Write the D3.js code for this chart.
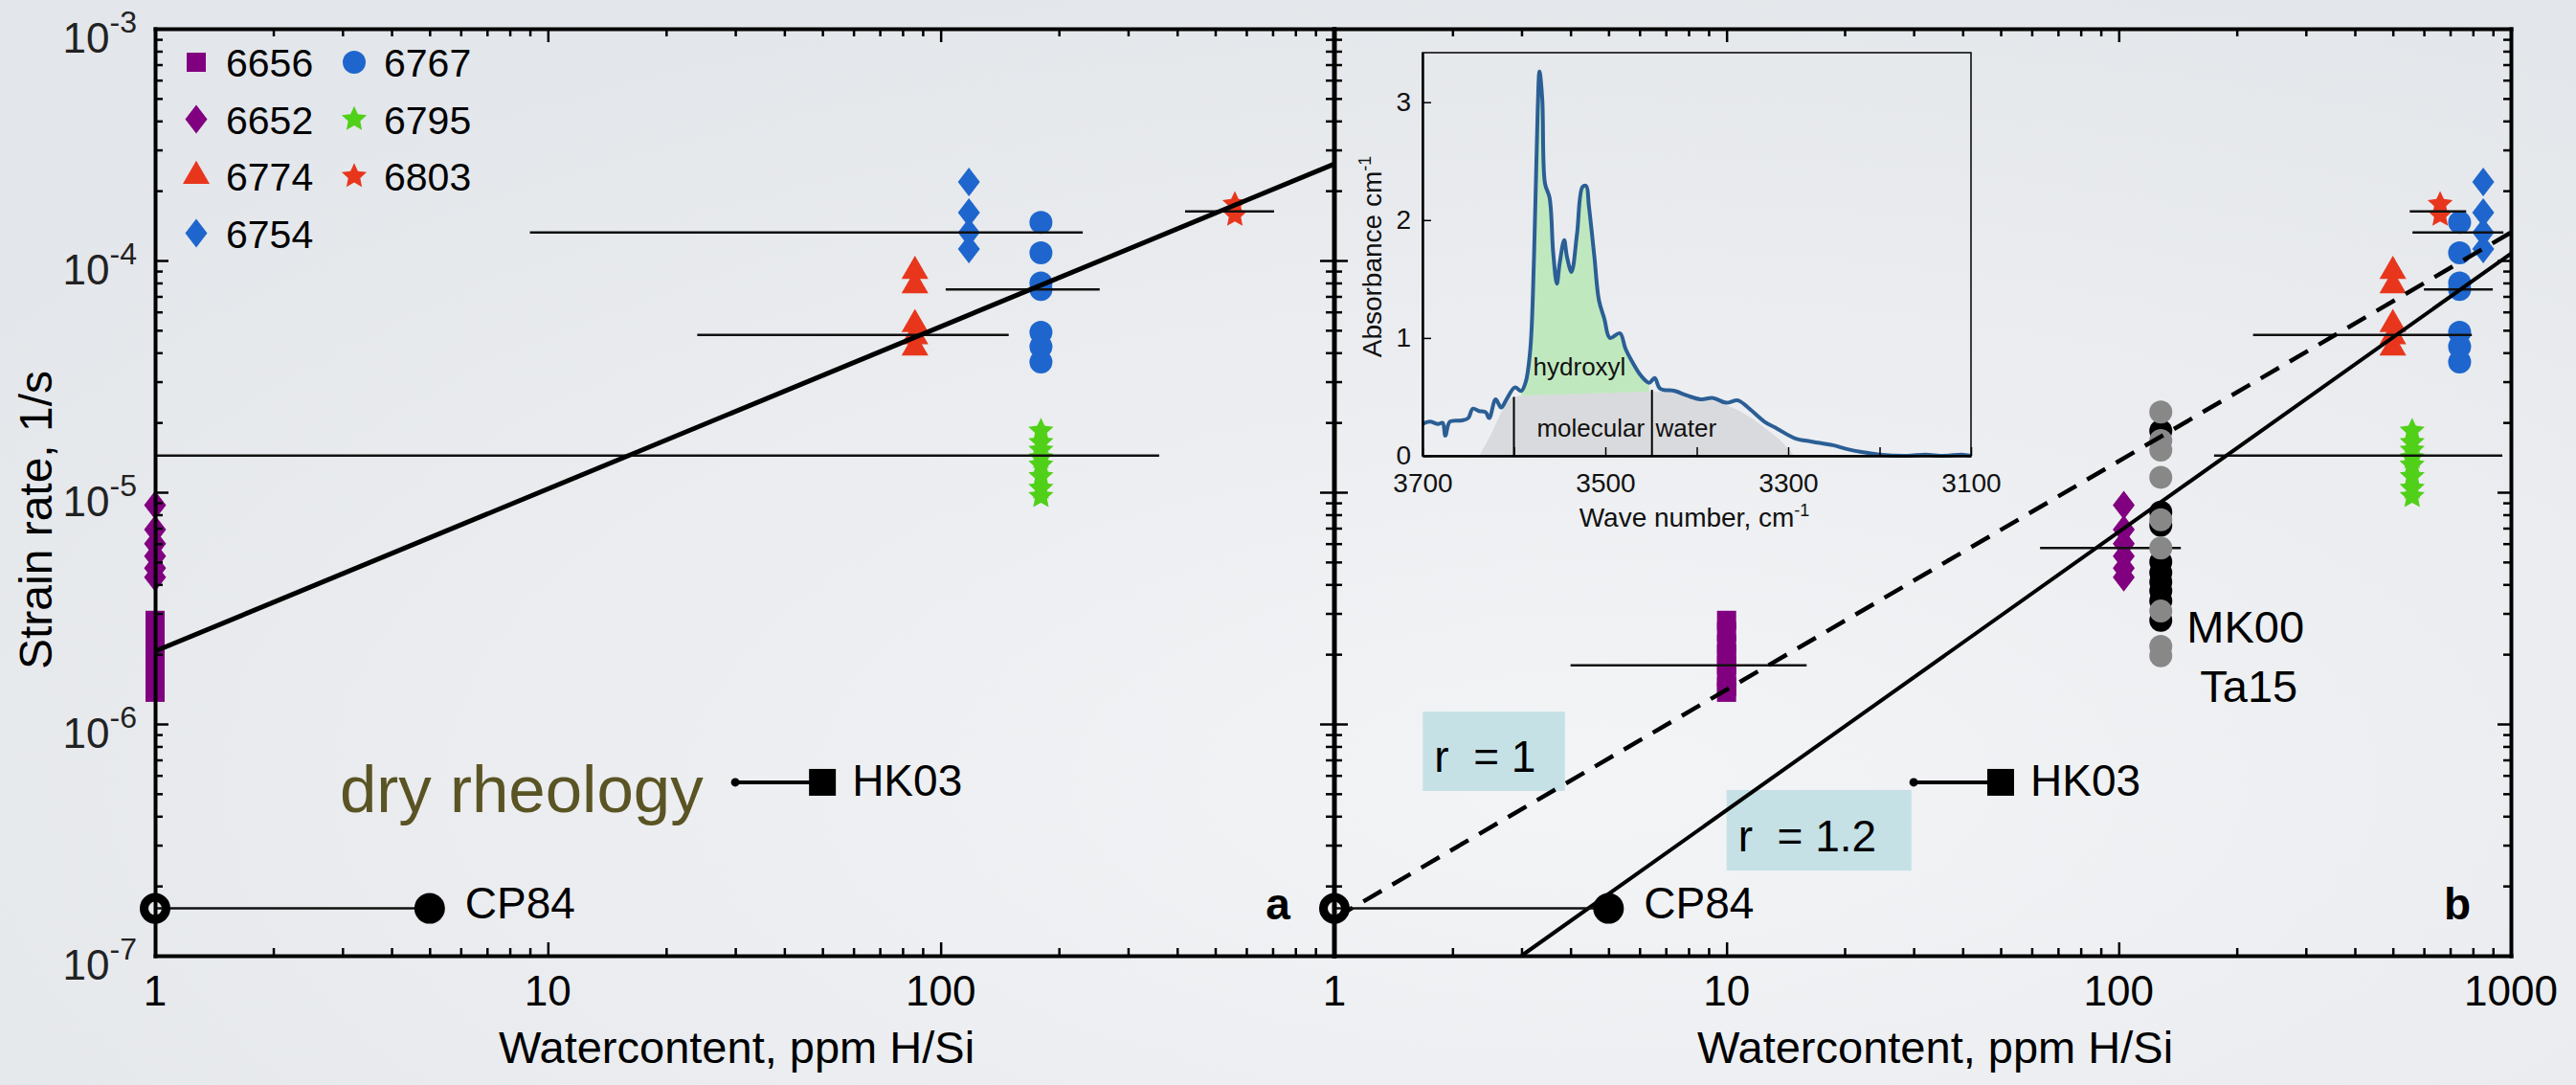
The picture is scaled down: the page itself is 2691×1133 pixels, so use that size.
<!DOCTYPE html>
<html>
<head>
<meta charset="utf-8">
<script src="https://cdn.jsdelivr.net/npm/d3@7"></script>
<style>
  body { margin: 0; }
  text { font-family: "Liberation Sans", Arial, Helvetica, sans-serif; }
</style>
</head>
<body>
<svg id="chart" width="2691" height="1133"></svg>
<script>
// Samples, in legend order
const samples = ["6656", "6652", "6774", "6754", "6767", "6795", "6803"];
const sampleColors = ["#800080", "#800080", "#e8361d", "#1e66cd", "#1e66cd", "#50d018", "#e8361d"];
const sampleShapes = ["square", "diamond", "triangle", "diamond", "circle", "star", "star"];

// Strain rates, 1/s
const rate6656 = [2.8e-6, 2.5e-6, 2.2e-6, 2.0e-6, 1.8e-6, 1.6e-6, 1.45e-6, 1.37e-6];
const rate6652 = [8.8e-6, 6.9e-6, 6.0e-6, 5.3e-6, 4.7e-6, 4.3e-6];
const rate6774 = [9.0e-5, 7.8e-5, 5.3e-5, 4.7e-5, 4.2e-5];
const rate6754 = [2.18e-4, 1.61e-4, 1.32e-4, 1.12e-4];
const rate6767 = [1.46e-4, 1.08e-4, 8.0e-5, 7.5e-5, 4.9e-5, 4.25e-5, 3.65e-5];
const rate6795 = [1.84e-5, 1.64e-5, 1.52e-5, 1.41e-5, 1.31e-5, 1.17e-5, 1.04e-5, 9.6e-6];
const rate6803 = [1.75e-4, 1.57e-4];
const rates = [rate6656, rate6652, rate6774, rate6754, rate6767, rate6795, rate6803];

// Water content, ppm H/Si (panel a, panel b)
const waterA = [1, 1, 86, 118, 180, 180, 561];
const waterB = [10, 103, 500, 850, 740, 560, 660];

// Horizontal bars: water content range at one strain rate per sample
const barRate = [1.79e-6, 5.75e-6, 4.77e-5, 1.32e-4, 7.5e-5, 1.44e-5, 1.63e-4];
const barLowA = [null, null, 24, 9, 103, 1, 419];
const barHighA = [null, null, 149, 230, 254, 360, 706];
const barLowB = [4, 63, 220, 561, 600, 175, 552];
const barHighB = [16, 144, 795, 957, 899, 951, 769];

// Literature data
const cp84Water = [1, 5];
const cp84Rate = 1.6e-7;
const hk03Water = [30, 50];
const hk03Rate = 5.6e-7;
const mk00Water = 128;
const mk00Rate = [2.22e-5, 1.67e-5, 1.52e-5, 1.16e-5, 7.6e-6, 5.75e-6, 3.07e-6, 2.16e-6, 1.97e-6];
const ta15Rate = [1.84e-5, 8.2e-6, 7.2e-6, 5.0e-6, 4.5e-6, 4.1e-6, 3.75e-6, 3.4e-6, 2.8e-6];

// Fitted lines
const fitWaterA = [1, 1000];
const fitRateA = [2.06e-6, 2.6e-4];
const r1Water = [1, 1000];
const r1Rate = [1.45e-7, 1.32e-4];
const r12Water = [3, 1000];
const r12Rate = [1e-7, 1.07e-4];

// Inset: FTIR spectrum
const waveNumber = [3700, 3692, 3683, 3678, 3675, 3670, 3657, 3650, 3645, 3638, 3631, 3627, 3620, 3614, 3608,
  3599, 3592, 3587, 3582, 3578, 3574, 3572, 3569, 3566, 3561, 3557, 3553, 3550, 3545, 3542, 3537, 3531, 3525,
  3521, 3518, 3512, 3507, 3501, 3495, 3484, 3478, 3470, 3461, 3452, 3446, 3440, 3424, 3410, 3396, 3382, 3368,
  3355, 3344, 3326, 3312, 3293, 3274, 3251, 3237, 3218, 3200, 3170, 3150, 3130, 3110, 3100];
const absorbance = [0.27, 0.29, 0.27, 0.28, 0.17, 0.29, 0.30, 0.32, 0.40, 0.38, 0.37, 0.32, 0.48, 0.41, 0.48,
  0.58, 0.55, 0.63, 0.91, 1.69, 2.93, 3.26, 3.03, 2.31, 2.19, 1.72, 1.46, 1.63, 1.83, 1.69, 1.56, 1.88, 2.28,
  2.29, 2.12, 1.69, 1.32, 1.16, 1.00, 1.04, 0.91, 0.79, 0.68, 0.62, 0.66, 0.57, 0.55, 0.51, 0.48, 0.49, 0.45,
  0.47, 0.41, 0.29, 0.23, 0.15, 0.12, 0.09, 0.06, 0.03, 0.01, 0.0, 0.01, 0.0, 0.01, 0.0];
const hydroxylWn = [3592, 3449];
const hydroxylBase = [0.51, 0.545];
const waterWn = [3638, 3624, 3613, 3603, 3592, 3520, 3449, 3424, 3396, 3368, 3344, 3326, 3307, 3293];
const waterAbs = [0, 0.2, 0.38, 0.49, 0.51, 0.53, 0.545, 0.54, 0.49, 0.43, 0.34, 0.24, 0.12, 0];
const cutWn = [3600, 3449];
const cutTop = [0.5, 0.56];

// Tick labels
const yExponents = [-3, -4, -5, -6, -7];
const xLabelsA = [1, 10, 100];
const xLabelsB = [1, 10, 100, 1000];

const svg = d3.select("#chart");

// background
let grad = svg.append("defs").append("radialGradient")
    .attr("id", "bg").attr("cx", "62%").attr("cy", "72%").attr("r", "80%");
grad.append("stop").attr("offset", "0%").attr("stop-color", "#f3f4f6");
grad.append("stop").attr("offset", "100%").attr("stop-color", "#e3e6ea");
svg.append("rect").attr("width", 2691).attr("height", 1133).attr("fill", "url(#bg)");

// Scales
let y = d3.scaleLog().domain([1e-7, 1e-3]).range([998, 30]);
let xA = d3.scaleLog().domain([1, 1000]).range([162, 1393]);
let xB = d3.scaleLog().domain([1, 1000]).range([1394, 2623]);

function isMajor(v) {
    let l = Math.log10(v);
    return Math.abs(l - Math.round(l)) < 1e-6;
}

// marker shapes
let diamond = {
    draw(ctx) {
        ctx.moveTo(0, -15);
        ctx.lineTo(11.5, 0);
        ctx.lineTo(0, 15);
        ctx.lineTo(-11.5, 0);
        ctx.closePath();
    },
};
let fatStar = {
    draw(ctx, size) {
        let R = Math.sqrt(size);
        for (let k = 0; k < 10; k++) {
            let a = -Math.PI / 2 + (k * Math.PI) / 5;
            let rad = k % 2 === 0 ? R : R * 0.48;
            if (k === 0) ctx.moveTo(rad * Math.cos(a), rad * Math.sin(a));
            else ctx.lineTo(rad * Math.cos(a), rad * Math.sin(a));
        }
        ctx.closePath();
    },
};
let symbolTypes = {
    square: [d3.symbolSquare, 400],
    diamond: [diamond, 0],
    triangle: [d3.symbolTriangle, 340],
    circle: [d3.symbolCircle, 452],
    star: [fatStar, 190],
};
function symbolPath(shape) {
    return d3.symbol(symbolTypes[shape][0], symbolTypes[shape][1])();
}

// Box with log ticks on all four sides
function drawFrame(x) {
    let [x0, x1] = x.range();
    let [y0, y1] = y.range();
    let style = (sel, attr, sign) => {
        sel.select(".domain").attr("stroke-width", 4).attr("stroke-linecap", "square");
        sel.selectAll("text").remove();
        sel.selectAll(".tick line")
            .attr("stroke-width", 2.5)
            .attr(attr, (d) => sign * (isMajor(d) ? 14 : 8));
    };
    svg.append("g").attr("transform", `translate(0,${y0})`)
        .call(d3.axisTop(x).tickValues(x.ticks()).tickSizeOuter(0))
        .call((s) => style(s, "y2", -1));
    svg.append("g").attr("transform", `translate(0,${y1})`)
        .call(d3.axisBottom(x).tickValues(x.ticks()).tickSizeOuter(0))
        .call((s) => style(s, "y2", 1));
    svg.append("g").attr("transform", `translate(${x0},0)`)
        .call(d3.axisRight(y).tickValues(y.ticks()).tickSizeOuter(0))
        .call((s) => style(s, "x2", 1));
    svg.append("g").attr("transform", `translate(${x1},0)`)
        .call(d3.axisLeft(y).tickValues(y.ticks()).tickSizeOuter(0))
        .call((s) => style(s, "x2", -1));
}

function drawSamples(x, water, barLow, barHigh) {
    samples.forEach((s, i) => {
        svg.append("g").selectAll("path")
            .data(rates[i])
            .join("path")
            .attr("d", symbolPath(sampleShapes[i]))
            .attr("transform", (d) => `translate(${x(water[i])},${y(d)})`)
            .attr("fill", sampleColors[i]);
    });
    samples.forEach((s, i) => {
        if (barLow[i] == null) return;
        svg.append("line")
            .attr("x1", x(barLow[i])).attr("x2", x(barHigh[i]))
            .attr("y1", y(barRate[i])).attr("y2", y(barRate[i]))
            .attr("stroke", "#111").attr("stroke-width", 2.5);
    });
}

let logLine = (x) => d3.line().x((d) => x(d[0])).y((d) => y(d[1]));

function drawLiterature(x) {
    // CP84
    svg.append("line")
        .attr("x1", x(cp84Water[0])).attr("x2", x(cp84Water[1]))
        .attr("y1", y(cp84Rate)).attr("y2", y(cp84Rate))
        .attr("stroke", "#111").attr("stroke-width", 2.5);
    svg.append("circle")
        .attr("cx", x(cp84Water[0])).attr("cy", y(cp84Rate)).attr("r", 11.5)
        .attr("fill", "none").attr("stroke", "#000").attr("stroke-width", 9);
    svg.append("circle")
        .attr("cx", x(cp84Water[1])).attr("cy", y(cp84Rate)).attr("r", 16)
        .attr("fill", "#000");
    svg.append("text")
        .attr("x", x(cp84Water[1]) + 37).attr("y", y(cp84Rate) + 10)
        .attr("font-size", 46).text("CP84");

    // HK03
    svg.append("line")
        .attr("x1", x(hk03Water[0])).attr("x2", x(hk03Water[1]))
        .attr("y1", y(hk03Rate)).attr("y2", y(hk03Rate))
        .attr("stroke", "#000").attr("stroke-width", 4);
    svg.append("circle")
        .attr("cx", x(hk03Water[0])).attr("cy", y(hk03Rate)).attr("r", 4.5)
        .attr("fill", "#000");
    svg.append("path")
        .attr("d", d3.symbol(d3.symbolSquare, 784)())
        .attr("transform", `translate(${x(hk03Water[1])},${y(hk03Rate)})`)
        .attr("fill", "#000");
    svg.append("text")
        .attr("x", x(hk03Water[1]) + 31).attr("y", y(hk03Rate) + 14)
        .attr("font-size", 46).text("HK03");
}

// Panel a
drawSamples(xA, waterA, barLowA, barHighA);
svg.append("path")
    .datum(d3.zip(fitWaterA, fitRateA))
    .attr("d", logLine(xA))
    .attr("fill", "none").attr("stroke", "#000").attr("stroke-width", 5);
drawLiterature(xA);
drawFrame(xA);

// Panel b
let rBoxes = [
    { water: [1.68, 3.87], rate: [1.13e-6, 5.14e-7], label: "r  = 1" },
    { water: [10.0, 29.6], rate: [5.19e-7, 2.33e-7], label: "r  = 1.2" },
];
rBoxes.forEach((b) => {
    svg.append("rect")
        .attr("x", xB(b.water[0])).attr("y", y(b.rate[0]))
        .attr("width", xB(b.water[1]) - xB(b.water[0]))
        .attr("height", y(b.rate[1]) - y(b.rate[0]))
        .attr("fill", "#c5e1e6");
    svg.append("text")
        .attr("x", xB(b.water[0]) + 12).attr("y", y(b.rate[1]) - 20)
        .attr("font-size", 46).style("white-space", "pre")
        .text(b.label);
});

drawSamples(xB, waterB, barLowB, barHighB);
svg.append("g").selectAll("circle")
    .data(ta15Rate).join("circle")
    .attr("cx", xB(mk00Water)).attr("cy", (d) => y(d)).attr("r", 12)
    .attr("fill", "#000");
svg.append("g").selectAll("circle")
    .data(mk00Rate).join("circle")
    .attr("cx", xB(mk00Water)).attr("cy", (d) => y(d)).attr("r", 12)
    .attr("fill", "#888888");

svg.append("path")
    .datum(d3.zip(r1Water, r1Rate))
    .attr("d", logLine(xB))
    .attr("fill", "none").attr("stroke", "#000").attr("stroke-width", 4.5)
    .attr("stroke-dasharray", "22,13");
svg.append("path")
    .datum(d3.zip(r12Water, r12Rate))
    .attr("d", logLine(xB))
    .attr("fill", "none").attr("stroke", "#000").attr("stroke-width", 4);
drawLiterature(xB);
drawFrame(xB);

svg.append("text").attr("x", xB(mk00Water) + 27).attr("y", 671)
    .attr("font-size", 47).text("MK00");
svg.append("text").attr("x", xB(mk00Water) + 41).attr("y", 733)
    .attr("font-size", 47).text("Ta15");

// Legend
samples.forEach((s, i) => {
    let col = i < 4 ? 0 : 1;
    let row = i < 4 ? i : i - 4;
    let mx = [205, 370][col];
    let my = 65 + row * 59.5;
    svg.append("path")
        .attr("d", symbolPath(sampleShapes[i]))
        .attr("transform", `translate(${mx},${my})`)
        .attr("fill", sampleColors[i]);
    svg.append("text")
        .attr("x", mx + 31).attr("y", my + 15)
        .attr("font-size", 41).text(s);
});

// Tick labels
yExponents.forEach((e) => {
    let t = svg.append("text")
        .attr("x", 143).attr("y", y(Math.pow(10, e)) + 25)
        .attr("text-anchor", "end").attr("font-size", 44).attr("fill", "#222");
    t.append("tspan").text("10");
    t.append("tspan").attr("dy", -21).attr("font-size", 32).text(e);
});
[[xA, xLabelsA, -8], [xB, xLabelsB, 13]].forEach(([x, labels, shift]) => {
    labels.forEach((v) => {
        svg.append("text")
            .attr("x", x(v)).attr("y", 1050)
            .attr("text-anchor", "middle").attr("font-size", 44).text(v);
    });
    let [a, b] = x.range();
    svg.append("text")
        .attr("x", (a + b) / 2 + shift).attr("y", 1110)
        .attr("text-anchor", "middle").attr("font-size", 47)
        .text("Watercontent, ppm H/Si");
});
svg.append("text")
    .attr("transform", "translate(54,543) rotate(-90)")
    .attr("text-anchor", "middle").attr("font-size", 48)
    .text("Strain rate, 1/s");

svg.append("text").attr("x", 355).attr("y", 848)
    .attr("font-size", 69).attr("fill", "#5a5424").text("dry rheology");
svg.append("text").attr("x", 1335).attr("y", 960)
    .attr("text-anchor", "middle").attr("font-size", 46).attr("font-weight", "bold").text("a");
svg.append("text").attr("x", 2567).attr("y", 960)
    .attr("text-anchor", "middle").attr("font-size", 46).attr("font-weight", "bold").text("b");

// Inset spectrum
let sx = d3.scaleLinear().domain([3700, 3100]).range([1486, 2059]);
let sy = d3.scaleLinear().domain([0, 3.42]).range([476, 55]);
let spectrum = d3.zip(waveNumber, absorbance);
let inset = svg.append("g");

inset.append("path")
    .datum(d3.zip(waterWn, waterAbs))
    .attr("d", d3.area().x((d) => sx(d[0])).y0(sy(0)).y1((d) => sy(d[1])).curve(d3.curveMonotoneX))
    .attr("fill", "#d9dadd");

let base = d3.scaleLinear().domain(hydroxylWn).range(hydroxylBase);
inset.append("path")
    .datum(spectrum.filter((d) => d[0] <= hydroxylWn[0] && d[0] >= hydroxylWn[1]))
    .attr("d", d3.area().x((d) => sx(d[0])).y0((d) => sy(base(d[0]))).y1((d) => sy(d[1])).curve(d3.curveCatmullRom))
    .attr("fill", "#c0e8bf");

cutWn.forEach((w, i) => {
    inset.append("line")
        .attr("x1", sx(w)).attr("x2", sx(w))
        .attr("y1", sy(0)).attr("y2", sy(cutTop[i]))
        .attr("stroke", "#000").attr("stroke-width", 2);
});

inset.append("path")
    .datum(spectrum)
    .attr("d", d3.line().x((d) => sx(d[0])).y((d) => sy(d[1])).curve(d3.curveCatmullRom))
    .attr("fill", "none").attr("stroke", "#2b5e95").attr("stroke-width", 4);

inset.append("rect")
    .attr("x", sx(3700)).attr("y", sy(3.42))
    .attr("width", sx(3100) - sx(3700)).attr("height", sy(0) - sy(3.42))
    .attr("fill", "none").attr("stroke", "#000").attr("stroke-width", 1.5);

let insetAxis = (sel) => {
    sel.attr("font-size", 28).attr("font-family", null);
    sel.select(".domain").attr("stroke-width", 2.5);
    sel.selectAll(".tick line").attr("stroke-width", 1.5);
    sel.selectAll("text").attr("fill", "#111");
};
inset.append("g").attr("transform", `translate(${sx(3700)},0)`)
    .call(d3.axisLeft(sy).tickValues([0, 1, 2, 3]).tickFormat(d3.format("d"))
        .tickSizeInner(-9).tickSizeOuter(0).tickPadding(12))
    .call(insetAxis);
inset.append("g").attr("transform", `translate(0,${sy(0)})`)
    .call(d3.axisBottom(sx).tickValues(d3.range(3700, 3099, -100)).tickSizeInner(-9).tickSizeOuter(0)
        .tickPadding(18).tickFormat((d) => (d % 200 === 100 ? d : "")))
    .call(insetAxis);

let yTitle = inset.append("text")
    .attr("transform", "translate(1443,268) rotate(-90)")
    .attr("text-anchor", "middle").attr("font-size", 28).attr("fill", "#111");
yTitle.append("tspan").text("Absorbance cm");
yTitle.append("tspan").attr("dy", -11).attr("font-size", 18).text("-1");

let xTitle = inset.append("text")
    .attr("x", 1770).attr("y", 550)
    .attr("text-anchor", "middle").attr("font-size", 28).attr("fill", "#111");
xTitle.append("tspan").text("Wave number, cm");
xTitle.append("tspan").attr("dy", -11).attr("font-size", 18).text("-1");

inset.append("text").attr("x", sx(3579)).attr("y", sy(0.68))
    .attr("font-size", 26).attr("fill", "#111").text("hydroxyl");
inset.append("text").attr("x", sx(3575)).attr("y", sy(0.165))
    .attr("font-size", 26).attr("fill", "#111").text("molecular");
inset.append("text").attr("x", sx(3445)).attr("y", sy(0.165))
    .attr("font-size", 26).attr("fill", "#111").text("water");
</script>
</body>
</html>
